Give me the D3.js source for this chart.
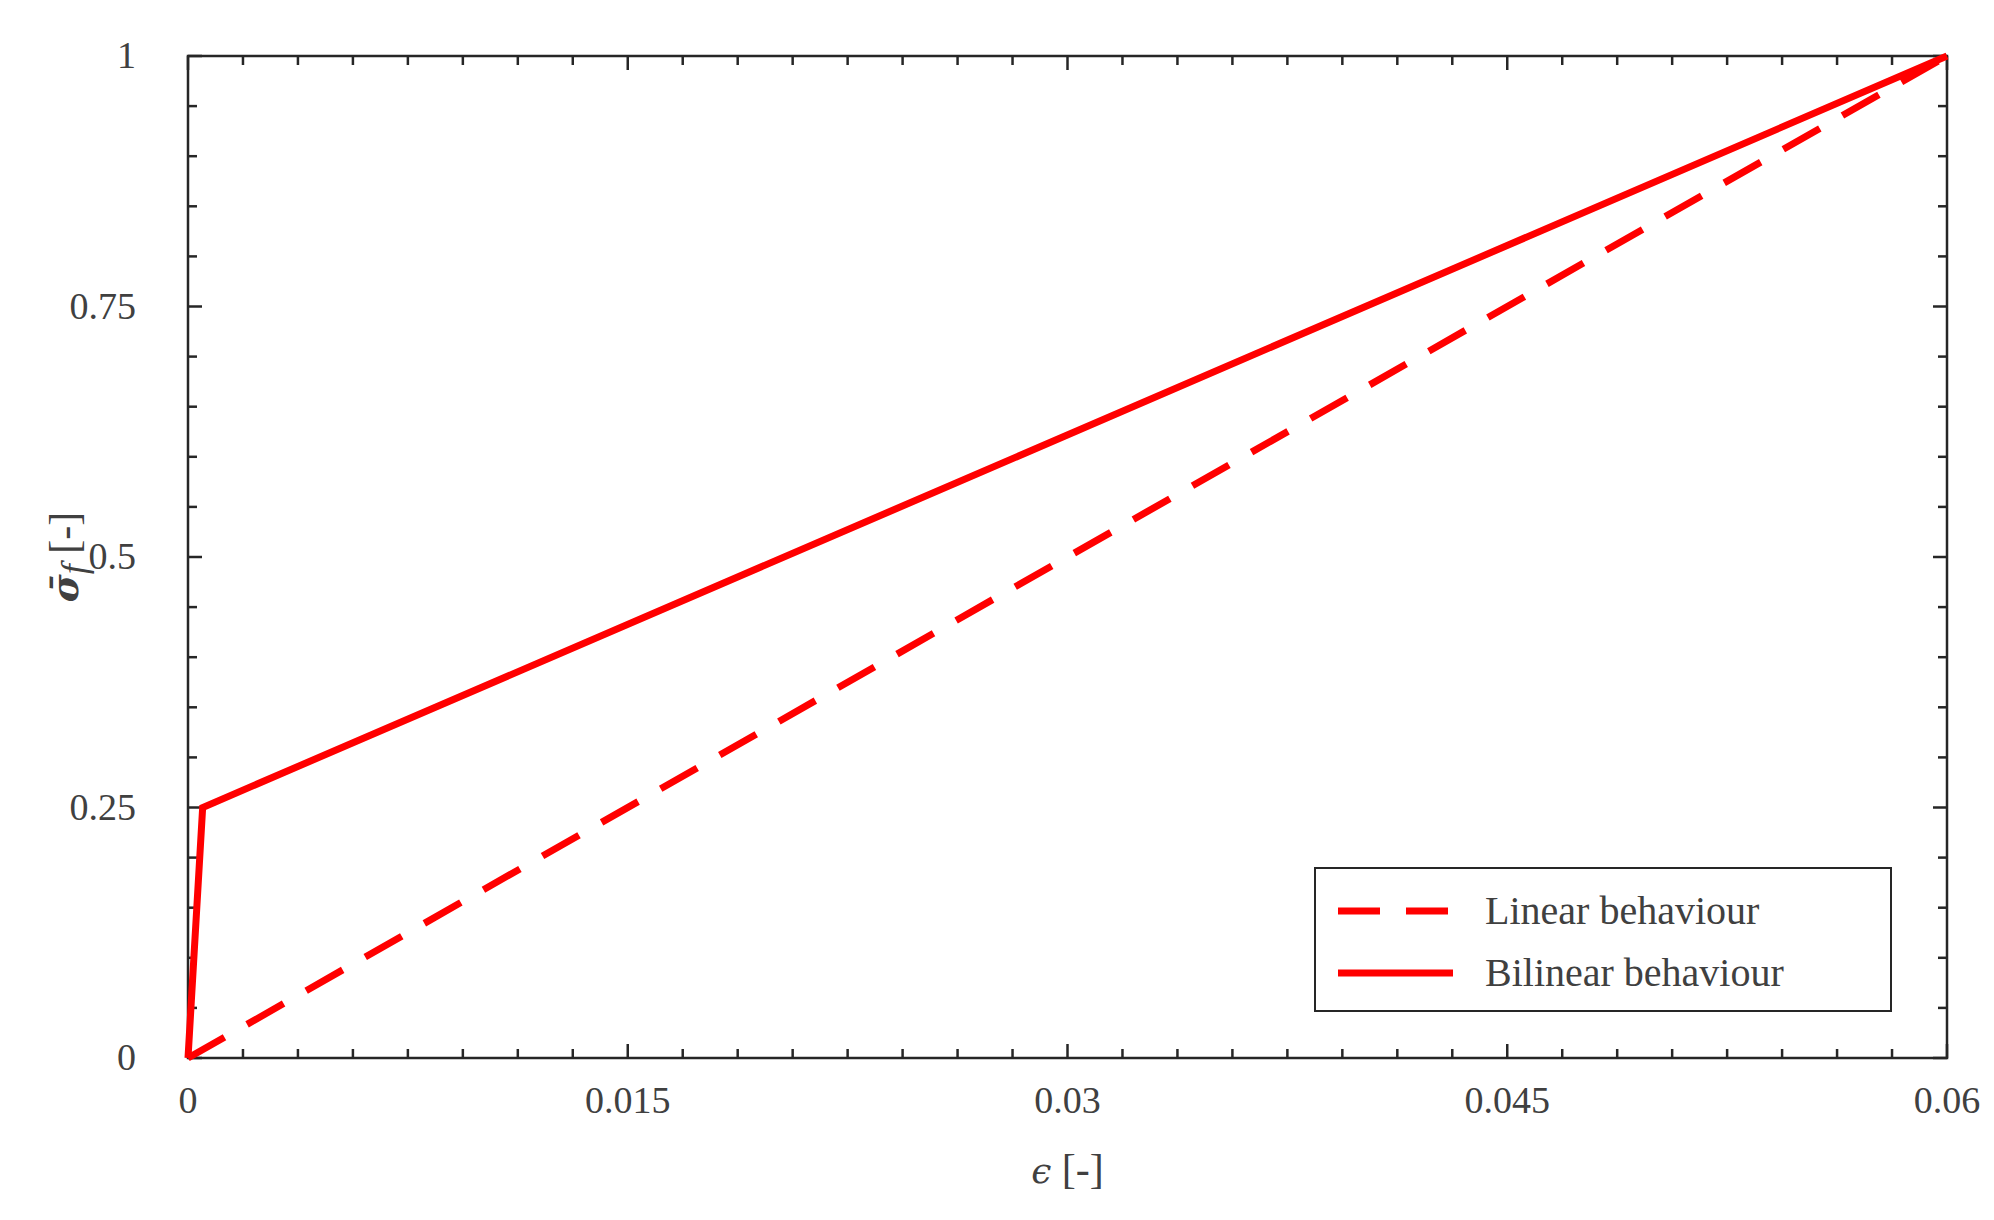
<!DOCTYPE html><html><head><meta charset="utf-8"><script src="https://d3js.org/d3.v7.min.js"></script>
<style>body{margin:0;background:#fff}text{font-family:"Liberation Serif",serif;fill:#404040}</style></head><body><svg id="c" width="1994" height="1220"></svg><script>
const linearX=[0,0.06], linearY=[0,1];
const bilinearX=[0,0.0005,0.06], bilinearY=[0,0.25,1];
const xTicks=[0,0.015,0.03,0.045,0.06], xTickLabels=["0","0.015","0.03","0.045","0.06"];
const yTicks=[0,0.25,0.5,0.75,1], yTickLabels=["0","0.25","0.5","0.75","1"];
const seriesNames=["Linear behaviour","Bilinear behaviour"];
const svg=d3.select("#c");
const L=188,R=1947,T=56,B=1058;
const x=d3.scaleLinear().domain([0,0.06]).range([L,R]);
const y=d3.scaleLinear().domain([0,1]).range([B,T]);
const xMinor=d3.range(0,0.0600001,0.06/32), yMinor=d3.range(0,1.00001,0.05);
const ax=svg.append("g").attr("stroke","#262626").attr("stroke-width",2.5);
xMinor.forEach(v=>{const big=xTicks.some(t=>Math.abs(t-v)<1e-9);const l=big?14:9;
 ax.append("line").attr("x1",x(v)).attr("x2",x(v)).attr("y1",B).attr("y2",B-l);
 ax.append("line").attr("x1",x(v)).attr("x2",x(v)).attr("y1",T).attr("y2",T+l);});
yMinor.forEach(v=>{const big=yTicks.some(t=>Math.abs(t-v)<1e-9);const l=big?14:9;
 ax.append("line").attr("y1",y(v)).attr("y2",y(v)).attr("x1",L).attr("x2",L+l);
 ax.append("line").attr("y1",y(v)).attr("y2",y(v)).attr("x1",R).attr("x2",R-l);});
svg.append("rect").attr("x",L).attr("y",T).attr("width",R-L).attr("height",B-T).attr("fill","none").attr("stroke","#262626").attr("stroke-width",2.5);
xTicks.forEach((v,i)=>svg.append("text").attr("x",x(v)).attr("y",B+55).attr("text-anchor","middle").attr("font-size",38).text(xTickLabels[i]));
yTicks.forEach((v,i)=>svg.append("text").attr("x",L-52).attr("y",y(v)+12).attr("text-anchor","end").attr("font-size",38).text(yTickLabels[i]));
svg.append("text").attr("x",x(0.03)).attr("y",B+125).attr("text-anchor","middle").attr("font-size",42).html('<tspan font-style="italic" font-family="DejaVu Serif" font-size="36">ϵ</tspan> [-]');
svg.append("text").attr("transform",`translate(${L-110},${(T+B)/2}) rotate(-90)`).attr("text-anchor","middle").attr("font-size",42)
 .html('<tspan font-style="italic" font-family="DejaVu Serif" font-weight="bold" font-size="38">σ̄</tspan><tspan font-style="italic" font-size="36" dy="8">f</tspan><tspan dy="-8"> [-]</tspan>');
const line=d3.line().x(d=>x(d[0])).y(d=>y(d[1]));
const g=svg.append("g").attr("fill","none").attr("stroke","#ff0000").attr("stroke-width",7).attr("stroke-linejoin","miter");
g.append("path").attr("d",line(linearX.map((v,i)=>[v,linearY[i]]))).attr("stroke-dasharray","42,26");
g.append("path").attr("d",line(bilinearX.map((v,i)=>[v,bilinearY[i]])));
const lg=svg.append("g");
lg.append("rect").attr("x",1315).attr("y",868).attr("width",576).attr("height",143).attr("fill","#fff").attr("stroke","#262626").attr("stroke-width",2);
[["42,26",0],[null,1]].forEach(([da,i])=>{const yy=911+i*62;
 const p=lg.append("line").attr("x1",1338).attr("x2",1453).attr("y1",yy).attr("y2",yy).attr("stroke","#ff0000").attr("stroke-width",7);
 if(da)p.attr("stroke-dasharray","42,26");
 lg.append("text").attr("x",1485).attr("y",yy+13).attr("font-size",40).text(seriesNames[i]);});
</script></body></html>
